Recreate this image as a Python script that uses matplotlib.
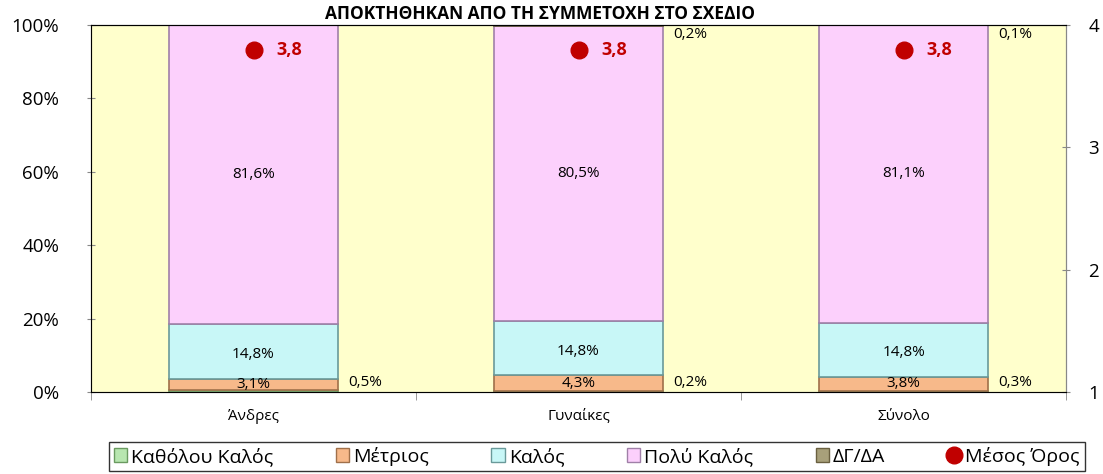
import numpy as np
import matplotlib.pyplot as plt
from matplotlib.lines import Line2D
from matplotlib.patches import Patch

plt.rcParams['font.family'] = ['Open Sans', 'DejaVu Sans']

categories = ['Άνδρες', 'Γυναίκες', 'Σύνολο']
series_names = ['Καθόλου Καλός', 'Μέτριος', 'Καλός', 'Πολύ Καλός', 'ΔΓ/ΔΑ']
kathol = [0.5, 0.2, 0.3]
metrios = [3.1, 4.3, 3.8]
kalos = [14.8, 14.8, 14.8]
poly_kalos = [81.6, 80.5, 81.1]
dg_da = [0.0, 0.2, 0.1]
mean_score = [3.8, 3.8, 3.8]
title = 'ΑΠΟΚΤΗΘΗΚΑΝ ΑΠΟ ΤΗ ΣΥΜΜΕΤΟΧΗ ΣΤΟ ΣΧΕΔΙΟ'

colors = ['#b8e6b0', '#f7b98a', '#c8f7f7', '#fcd0fc', '#a8a07a']
edges = ['#6a9a60', '#a0704a', '#6a9a9a', '#a080a8', '#6a6040']

fig = plt.figure(figsize=(11.03, 4.74), dpi=100)
ax = fig.add_axes([0.0825, 0.173, 0.884, 0.774])
ax.set_facecolor('#ffffcc')

x = np.arange(len(categories))
w = 0.52
data = [kathol, metrios, kalos, poly_kalos, dg_da]
bottom = np.zeros(len(categories))
for vals, c, e in zip(data, colors, edges):
    ax.bar(x, vals, w, bottom=bottom, color=c, edgecolor=e, linewidth=1.2)
    bottom += np.array(vals)

def pct(v):
    return f'{v:.1f}%'.replace('.', ',')

# labels inside bars
for i in range(len(categories)):
    b = kathol[i]
    ax.text(x[i], b + metrios[i] / 2, pct(metrios[i]), ha='center', va='center', fontsize=11)
    b += metrios[i]
    ax.text(x[i], b + kalos[i] / 2 - 0.8, pct(kalos[i]), ha='center', va='center', fontsize=11)
    b += kalos[i]
    ax.text(x[i], b + poly_kalos[i] / 2, pct(poly_kalos[i]), ha='center', va='center', fontsize=11)
    ax.text(x[i] + w / 2 + 0.03, 0.6, pct(kathol[i]), ha='left', va='bottom', fontsize=11)
    if dg_da[i] > 0:
        ax.text(x[i] + w / 2 + 0.03, 99.5, pct(dg_da[i]), ha='left', va='top', fontsize=11)

ax.set_xlim(-0.5, 2.5)
ax.set_ylim(0, 100)
ax.set_yticks(np.arange(0, 101, 20))
ax.set_yticklabels([f'{v}%' for v in range(0, 101, 20)], fontsize=13.5)
ax.set_xticks(x)
ax.set_xticklabels(categories, fontsize=11)
ax.set_xticks([-0.5, 0.5, 1.5, 2.5], minor=True)
ax.tick_params(axis='x', which='major', length=0, pad=12)
ax.tick_params(axis='x', which='minor', length=6, color='#888888', direction='out')
ax.tick_params(axis='y', length=6, color='#888888', direction='inout', pad=20)
for s in ['left', 'right', 'bottom']:
    ax.spines[s].set_color('#888888')
ax.spines['top'].set_color('#222222')

ax2 = ax.twinx()
ax2.set_ylim(1, 4)
ax2.set_yticks([1, 2, 3, 4])
ax2.tick_params(axis='y', labelsize=13.5, length=6, color='#888888', direction='inout', pad=13)
ax2.spines['right'].set_color('#888888')
ax2.plot(x, mean_score, 'o', color='#c00000', markersize=12, linestyle='none')
for i in range(len(categories)):
    ax2.text(x[i] + 0.07, mean_score[i], f'{mean_score[i]:.1f}'.replace('.', ','),
             color='#c00000', fontsize=13, fontweight='bold', ha='left', va='center')

fig.text(0.49, 0.951, title, ha='center', va='bottom', fontsize=12.5, fontweight='bold')

handles = [Patch(facecolor=c, edgecolor=e) for c, e in zip(colors, edges)]
handles.append(Line2D([], [], marker='o', color='#c00000', linestyle='none', markersize=12))
leg = fig.legend(handles, series_names + ['Μέσος Όρος'], ncol=6, loc='upper center',
                 bbox_to_anchor=(0.541, 0.0675), fontsize=14, frameon=True, fancybox=False,
                 handlelength=0.7, handleheight=0.7, handletextpad=0.2, columnspacing=3.2,
                 borderpad=0.25, borderaxespad=0)
leg.get_frame().set_edgecolor('black')
leg.get_frame().set_linewidth(1.0)

fig.savefig('out.png', dpi=100)
